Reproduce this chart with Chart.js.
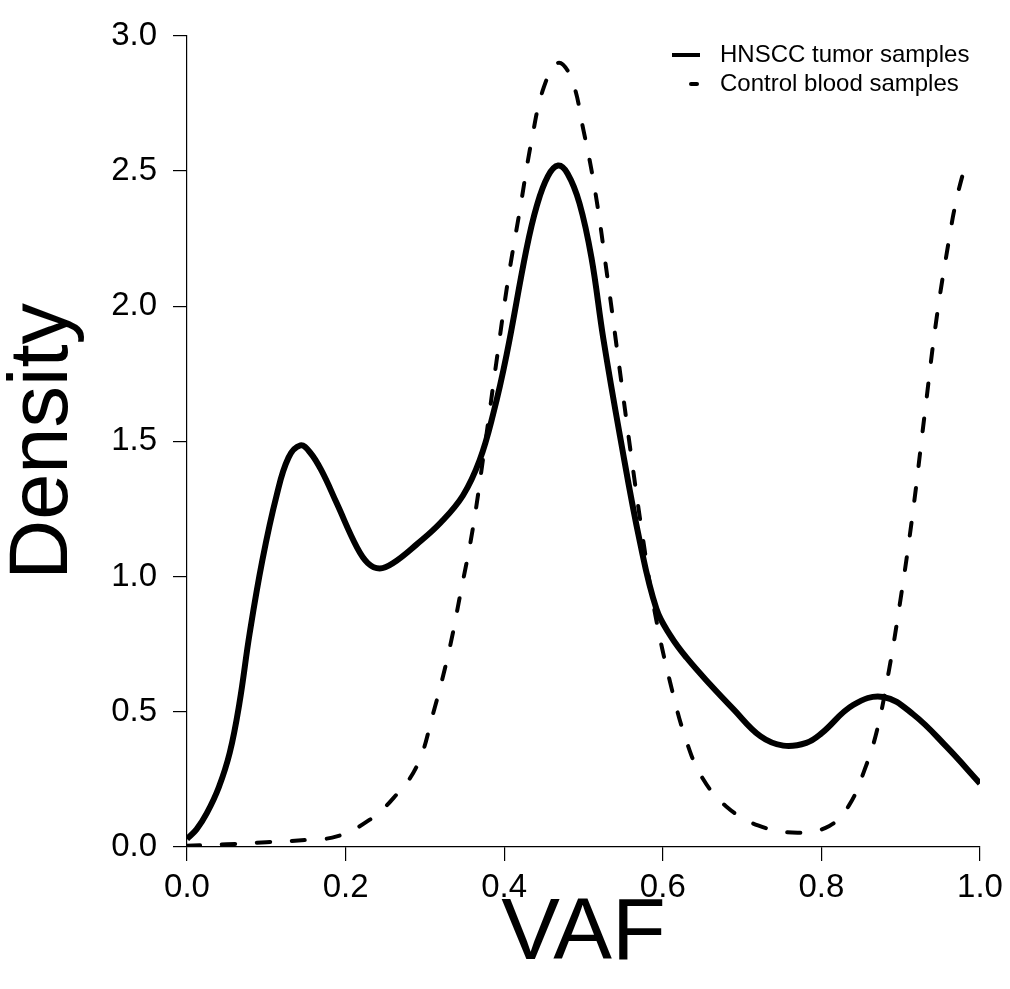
<!DOCTYPE html>
<html>
<head>
<meta charset="utf-8">
<script src="https://cdn.jsdelivr.net/npm/chart.js@4/dist/chart.umd.min.js"></script>
<style>
  html, body { margin: 0; padding: 0; background: #fff; }
  #c { display: block; }
</style>
</head>
<body>
<canvas id="c" width="1010" height="989"></canvas>
<script>
// ---- data ----
const seriesNames = ["HNSCC tumor samples", "Control blood samples"];

const tumorX = [0, 0.012, 0.025, 0.04, 0.054, 0.066, 0.079, 0.095, 0.113, 0.128, 0.143, 0.155, 0.17, 0.189, 0.214, 0.228, 0.243, 0.26, 0.29, 0.32, 0.348, 0.369, 0.386, 0.403, 0.428, 0.441, 0.455, 0.468, 0.48, 0.495, 0.51, 0.525, 0.546, 0.571, 0.592, 0.61, 0.63, 0.66, 0.689, 0.723, 0.752, 0.781, 0.80, 0.84, 0.878, 0.916, 0.958, 1.0];
const tumorY = [0.03, 0.065, 0.125, 0.22, 0.35, 0.53, 0.79, 1.06, 1.30, 1.44, 1.485, 1.46, 1.39, 1.27, 1.11, 1.05, 1.03, 1.05, 1.12, 1.20, 1.30, 1.43, 1.60, 1.82, 2.21, 2.37, 2.48, 2.52, 2.49, 2.38, 2.18, 1.88, 1.52, 1.13, 0.88, 0.78, 0.70, 0.60, 0.51, 0.41, 0.375, 0.385, 0.42, 0.525, 0.555, 0.49, 0.37, 0.235];

const controlX = [0, 0.05, 0.10, 0.15, 0.19, 0.23, 0.26, 0.29, 0.31, 0.33, 0.345, 0.36, 0.375, 0.39, 0.405, 0.42, 0.435, 0.45, 0.468, 0.485, 0.50, 0.515, 0.53, 0.545, 0.56, 0.575, 0.59, 0.61, 0.63, 0.65, 0.68, 0.72, 0.77, 0.81, 0.835, 0.855, 0.87, 0.885, 0.90, 0.915, 0.93, 0.945, 0.96, 0.97, 0.983];
const controlY = [0.005, 0.01, 0.018, 0.026, 0.04, 0.10, 0.18, 0.30, 0.49, 0.72, 0.94, 1.17, 1.47, 1.79, 2.10, 2.36, 2.62, 2.81, 2.90, 2.84, 2.65, 2.42, 2.11, 1.78, 1.45, 1.14, 0.867, 0.60, 0.39, 0.255, 0.15, 0.08, 0.053, 0.078, 0.155, 0.29, 0.43, 0.65, 0.92, 1.23, 1.595, 1.95, 2.23, 2.39, 2.54];

const xTickValues = [0, 0.2, 0.4, 0.6, 0.8, 1.0];
const yTickValues = [0, 0.5, 1.0, 1.5, 2.0, 2.5, 3.0];
const xTitle = "VAF";
const yTitle = "Density";

// ---- chart ----
const FONT = '"Liberation Sans", Arial, Helvetica, sans-serif';
Chart.defaults.font.family = FONT;
Chart.defaults.color = '#000';

const toPts = (xs, ys) => xs.map((x, i) => ({ x: x, y: ys[i] }));

const cornerLegend = {
  id: 'cornerLegend',
  afterDraw(chart) {
    const ctx = chart.ctx;
    ctx.save();
    ctx.font = '24px ' + FONT;
    ctx.fillStyle = '#000';
    ctx.textBaseline = 'middle';
    ctx.textAlign = 'left';
    const rows = [55, 84];
    chart.data.datasets.forEach((ds, i) => {
      const y = rows[i];
      ctx.strokeStyle = ds.borderColor;
      ctx.lineWidth = 4;
      ctx.lineCap = ds.borderDash ? 'round' : 'butt';
      ctx.setLineDash([]);
      ctx.beginPath();
      if (ds.borderDash) {
        ctx.moveTo(691, y); ctx.lineTo(697, y);
      } else {
        ctx.moveTo(672, y); ctx.lineTo(700, y);
      }
      ctx.stroke();
      ctx.fillText(ds.label, 720, y);
    });
    ctx.restore();
  }
};

new Chart(document.getElementById('c'), {
  type: 'line',
  data: {
    datasets: [
      {
        label: seriesNames[0],
        data: toPts(tumorX, tumorY),
        borderColor: '#000',
        borderWidth: 6,
        borderJoinStyle: 'round',
        pointRadius: 0,
        fill: false,
        tension: 0.4
      },
      {
        label: seriesNames[1],
        data: toPts(controlX, controlY),
        borderColor: '#000',
        borderWidth: 4,
        borderDash: [13, 22],
        borderCapStyle: 'round',
        pointRadius: 0,
        fill: false,
        tension: 0.4
      }
    ]
  },
  options: {
    responsive: false,
    animation: false,
    layout: { padding: { top: 25, right: 30, bottom: 0, left: 0 } },
    plugins: { legend: { display: false }, tooltip: { enabled: false } },
    scales: {
      x: {
        type: 'linear',
        min: 0, max: 1,
        afterBuildTicks: (s) => { s.ticks = xTickValues.map(v => ({ value: v })); },
        afterFit: (s) => { s.height = 142; },
        ticks: {
          font: { size: 33 },
          color: '#000',
          padding: 7,
          maxRotation: 0,
          callback: (v) => Number(v).toFixed(1)
        },
        grid: { drawOnChartArea: false, drawTicks: true, tickLength: 14, tickColor: '#000', lineWidth: 1.2 },
        border: { display: true, color: '#000', width: 1.2 },
        title: {
          display: true, text: xTitle,
          font: { size: 88, lineHeight: 1 },
          color: '#000',
          padding: { top: 0, bottom: 10 }
        }
      },
      y: {
        type: 'linear',
        min: 0, max: 3,
        afterBuildTicks: (s) => { s.ticks = yTickValues.map(v => ({ value: v })); },
        afterFit: (s) => { s.width = 187; },
        ticks: {
          font: { size: 33 },
          color: '#000',
          padding: 16,
          callback: (v) => Number(v).toFixed(1)
        },
        grid: { drawOnChartArea: false, drawTicks: true, tickLength: 14, tickColor: '#000', lineWidth: 1.2 },
        border: { display: true, color: '#000', width: 1.2 },
        title: {
          display: true, text: yTitle,
          font: { size: 83, lineHeight: 1 },
          color: '#000',
          padding: { top: 3, bottom: 0 }
        }
      }
    }
  },
  plugins: [cornerLegend]
});
</script>
</body>
</html>
